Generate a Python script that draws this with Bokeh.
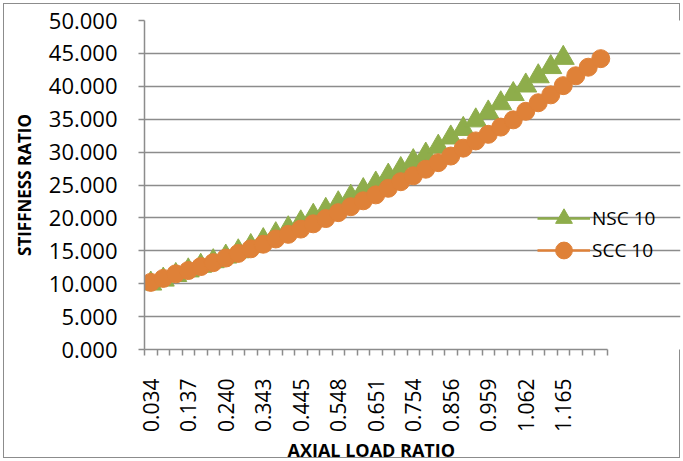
import math
from bokeh.plotting import figure
from bokeh.models import (Range1d, FixedTicker, NumeralTickFormatter, Legend,
                          LegendItem, ColumnDataSource, Title)
from bokeh.embed import file_html
from bokeh.resources import INLINE

# Category labels (axial load ratio) - from the first series
axial_load_ratio = ["0.034", "0.069", "0.103", "0.137", "0.171", "0.206", "0.240",
                    "0.274", "0.308", "0.343", "0.377", "0.411", "0.445", "0.480",
                    "0.514", "0.548", "0.582", "0.617", "0.651", "0.685", "0.719",
                    "0.754", "0.788", "0.822", "0.856", "0.891", "0.925", "0.959",
                    "0.993", "1.028", "1.062", "1.096", "1.130", "1.165"]

nsc_10 = [10.0, 10.6, 11.3, 12.0, 12.7, 13.4, 14.1, 14.9, 15.7, 16.6, 17.5, 18.4,
          19.3, 20.3, 21.2, 22.2, 23.2, 24.2, 25.2, 26.4, 27.4, 28.6, 29.6, 30.8,
          32.2, 33.5, 34.8, 36.0, 37.4, 38.8, 40.1, 41.5, 42.9, 44.3]

scc_10 = [10.2, 10.8, 11.5, 12.0, 12.6, 13.2, 13.9, 14.6, 15.3, 16.0, 16.8, 17.5,
          18.3, 19.1, 19.9, 20.8, 21.7, 22.6, 23.5, 24.5, 25.5, 26.4, 27.4, 28.4,
          29.4, 30.6, 31.7, 32.7, 33.8, 34.9, 36.2, 37.5, 38.7, 40.1, 41.6, 42.9, 44.2]

y_ticks = [0, 5, 10, 15, 20, 25, 30, 35, 40, 45, 50]

GREEN = "#8EAD4B"
ORANGE = "#DF8138"
GRID = "#8C8C8C"
FONT = "Open Sans"

W, H = 683, 461
LEFT, TOP, BOTTOM, RIGHT = 144, 20, 109, 3
CAT_PX = 12.5  # width of one category slot in pixels

n_cat = max(len(nsc_10), len(scc_10))
frame_w = W - LEFT - RIGHT
x_end = -0.5 + frame_w / CAT_PX

p = figure(width=W, height=H, output_backend="svg", toolbar_location=None,
           x_range=Range1d(-0.5, x_end), y_range=Range1d(y_ticks[0], y_ticks[-1]),
           min_border_left=LEFT, min_border_right=RIGHT, min_border_top=TOP,
           min_border_bottom=BOTTOM)
p.styles = {"outline": "1px solid #8C8C8C", "outline-offset": "-4px",
            "background-color": "white"}
p.outline_line_color = None
p.background_fill_color = "white"
p.border_fill_color = None

nsc_src = ColumnDataSource(dict(x=list(range(len(nsc_10))), y=nsc_10))
scc_src = ColumnDataSource(dict(x=list(range(len(scc_10))), y=scc_10))

nsc_line = p.line("x", "y", source=nsc_src, line_color=GREEN, line_width=2.5)
nsc_pts = p.scatter("x", "y", source=nsc_src, marker="triangle", size=22,
                    fill_color=GREEN, line_color=GREEN)
scc_line = p.line("x", "y", source=scc_src, line_color=ORANGE, line_width=2.5)
scc_pts = p.scatter("x", "y", source=scc_src, marker="circle", size=18,
                    fill_color=ORANGE, line_color=ORANGE)

# Y axis
p.yaxis.ticker = FixedTicker(ticks=y_ticks)
p.yaxis.formatter = NumeralTickFormatter(format="0.000")
p.yaxis.axis_label = "STIFFNESS RATIO"
p.yaxis.axis_label_text_font = FONT
p.yaxis.axis_label_text_font_style = "bold"
p.yaxis.axis_label_text_font_size = "17px"
p.yaxis.axis_label_text_color = "black"
p.yaxis.axis_label_standoff = 10
p.yaxis.major_label_text_font = FONT
p.yaxis.major_label_text_font_size = "22px"
p.yaxis.major_label_text_color = "black"
p.yaxis.major_label_standoff = 21
p.yaxis.major_tick_out = 6
p.yaxis.major_tick_in = 0
p.yaxis.minor_tick_line_color = None
p.yaxis.axis_line_color = GRID
p.yaxis.major_tick_line_color = GRID
p.yaxis.axis_line_width = 1.5
p.yaxis.major_tick_line_width = 1.5

# X axis
label_idx = list(range(0, len(axial_load_ratio), 3))
boundaries = [i - 0.5 for i in range(n_cat + 1)]
p.xaxis.bounds = (-0.5, n_cat - 0.5)
p.xaxis.ticker = FixedTicker(ticks=label_idx, minor_ticks=boundaries)
p.xaxis.major_label_overrides = {i: axial_load_ratio[i] for i in label_idx}
p.xaxis.major_label_orientation = math.pi / 2
p.xaxis.major_label_text_font = FONT
p.xaxis.major_label_text_font_size = "21px"
p.xaxis.major_label_text_color = "black"
p.xaxis.major_label_standoff = 23
p.xaxis.major_tick_line_color = None
p.xaxis.major_tick_out = 0
p.xaxis.major_tick_in = 0
p.xaxis.minor_tick_out = 6
p.xaxis.minor_tick_in = 0
p.xaxis.minor_tick_line_color = GRID
p.xaxis.minor_tick_line_width = 1.5
p.xaxis.axis_line_color = GRID
p.xaxis.axis_line_width = 1.5

# X axis title, centred under the category span
x_title = Title(text="AXIAL LOAD RATIO", align="left", offset=143, standoff=0,
                text_font=FONT, text_font_style="bold", text_font_size="18px",
                text_color="black")
p.add_layout(x_title, "below")

p.xgrid.grid_line_color = None
p.ygrid.grid_line_color = GRID
p.ygrid.grid_line_width = 1.5
p.ygrid.bounds = (-0.5, n_cat - 0.5)

common = dict(glyph_width=53, glyph_height=42, label_height=42, padding=0, margin=0,
              label_standoff=2, border_line_color=None, background_fill_alpha=0,
              label_text_font=FONT, label_text_font_size="19px",
              label_text_color="black")
leg_nsc = Legend(items=[LegendItem(label="NSC 10", renderers=[nsc_line, nsc_pts])],
                 location=(393, 110), **common)
leg_scc = Legend(items=[LegendItem(label="SCC 10", renderers=[scc_line, scc_pts])],
                 location=(393, 78), **common)
p.add_layout(leg_nsc)
p.add_layout(leg_scc)

open("out.html", "w").write(file_html(p, INLINE))
